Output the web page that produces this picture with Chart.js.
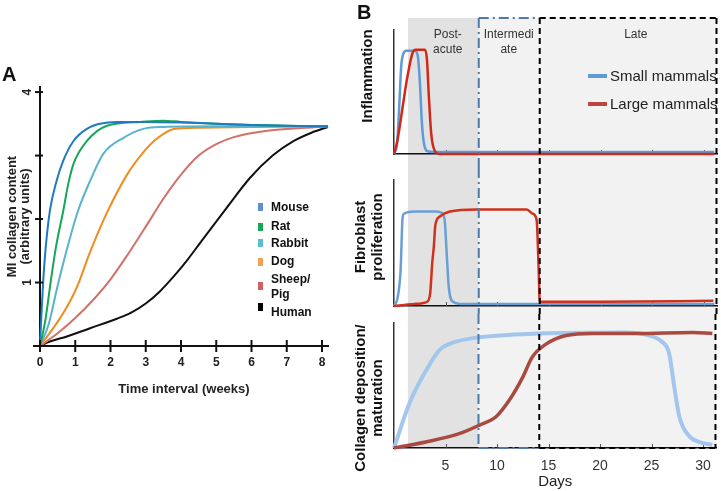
<!DOCTYPE html>
<html>
<head>
<meta charset="utf-8">
<script src="https://cdn.jsdelivr.net/npm/chart.js@4.4.1/dist/chart.umd.min.js"></script>
<style>
  body { margin: 0; background: #fff; }
  #wrap { position: relative; width: 721px; height: 491px; overflow: hidden; font-family: "Liberation Sans", Arial, sans-serif; }
  canvas { position: absolute; }
  .panel { position: absolute; font-weight: bold; font-size: 20px; line-height: 20px; color: #111; }
</style>
</head>
<body>
<div id="wrap">
  <canvas id="chartA" width="360" height="410" style="left:0;top:0"></canvas>
  <canvas id="chartB1" width="366" height="168" style="left:355px;top:0"></canvas>
  <canvas id="chartB2" width="366" height="146" style="left:355px;top:168px"></canvas>
  <canvas id="chartB3" width="366" height="177" style="left:355px;top:314px"></canvas>
  <div class="panel" style="left:2px;top:64px">A</div>
  <div class="panel" style="left:357px;top:2px">B</div>
</div>
<script>
// ---- panel A data: collagen content (a.u.) vs time (weeks) ----
const weekTicks = [0, 1, 2, 3, 4, 5, 6, 7, 8];
const contentTicks = [0, 1, 2, 3, 4];
const contentLabels = ['', '1', '', '', '4'];
const species = ['Mouse', 'Rat', 'Rabbit', 'Dog', 'Sheep/Pig', 'Human'];
const mouse = [[0,0],[0.05,0.6],[0.1,1.1],[0.17,1.6],[0.28,2.13],[0.47,2.6],[0.66,2.92],[0.95,3.23],[1.33,3.42],[1.7,3.5],[2.2,3.53],[3,3.53],[4,3.52],[5,3.5],[6,3.48],[7,3.47],[8.17,3.46]];
const rat = [[0,0],[0.15,0.4],[0.3,1.0],[0.45,1.55],[0.66,2.13],[0.8,2.55],[0.95,2.87],[1.33,3.23],[1.9,3.47],[2.84,3.53],[3.5,3.55],[4,3.53],[5,3.5],[6,3.48],[7,3.47],[8.17,3.46]];
const rabbit = [[0,0],[0.25,0.35],[0.5,0.95],[0.8,1.6],[1.08,2.13],[1.42,2.6],[1.8,3.03],[2.37,3.28],[2.93,3.42],[3.5,3.45],[5,3.46],[8.17,3.46]];
const dog = [[0,0],[0.5,0.38],[0.85,0.7],[1.1,1.0],[1.4,1.45],[1.9,2.1],[2.47,2.7],[2.93,3.05],[3.3,3.26],[3.8,3.42],[4.5,3.44],[6,3.45],[8.17,3.46]];
const sheepPig = [[0,0],[0.5,0.2],[1,0.44],[1.5,0.72],[2,1.05],[2.5,1.45],[3,1.88],[3.5,2.32],[4,2.7],[4.5,3.0],[5,3.18],[5.5,3.29],[6.45,3.39],[7.3,3.43],[8.17,3.46]];
const human = [[0,0],[0.28,0.07],[0.76,0.15],[1.42,0.28],[2.18,0.43],[2.6,0.53],[3.0,0.67],[3.4,0.86],[3.8,1.1],[4.2,1.37],[4.55,1.63],[5.3,2.18],[5.96,2.65],[6.6,3.0],[7.2,3.23],[7.7,3.36],[8.17,3.45]];

// ---- panel B data: relative level vs days ----
const dayTicks = [5, 10, 15, 20, 25, 30];
const phaseDays = [1.35, 8.2, 14.1, 31.3]; // post-acute start, intermediate, late, end
const groups = ['Small mammals', 'Large mammals'];
const inflamSmall = [[0,0],[0.3,0.1],[0.5,0.45],[0.7,0.85],[0.9,0.97],[1.2,1.0],[2.0,1.0],[2.3,0.95],[2.5,0.7],[2.7,0.3],[2.9,0.1],[3.3,0.025],[4,0.02],[31,0.02]];
const inflamLarge = [[0,0],[0.35,0.14],[0.83,0.45],[1.3,0.75],[1.8,0.98],[2.1,1.01],[3.0,1.01],[3.2,0.9],[3.35,0.6],[3.6,0.2],[3.9,0.04],[4.4,0],[31,0]];
const fibroSmall = [[0,0],[0.35,0.08],[0.64,0.34],[0.83,0.84],[1.0,0.88],[2,0.9],[4,0.9],[4.6,0.89],[4.9,0.82],[5.1,0.5],[5.3,0.18],[5.7,0.04],[6.4,0.02],[31,0.02]];
const fibroLarge = [[0,0],[1,0.01],[2,0.02],[3.2,0.04],[3.5,0.12],[3.7,0.41],[3.85,0.56],[4.0,0.77],[4.4,0.85],[5.4,0.9],[8,0.92],[12.85,0.92],[13.4,0.88],[13.8,0.82],[14.0,0.34],[14.1,0.04],[20,0.04],[30.9,0.05]];
const collagenSmall = [[0,0],[1.5,0.43],[3.15,0.75],[4.4,0.94],[5.4,1.0],[7.35,1.05],[14.1,1.1],[22.5,1.11],[24.8,1.08],[26,1.02],[26.7,0.91],[27.2,0.59],[27.7,0.3],[28.6,0.12],[29.9,0.05],[30.9,0.03]];
const collagenLarge = [[0,0],[3.2,0.06],[6.4,0.14],[8.3,0.22],[9.9,0.3],[11.2,0.46],[12.5,0.68],[13.4,0.87],[14.8,1.0],[16.7,1.08],[19.3,1.1],[23.5,1.1],[29,1.11],[30.9,1.1]];

const FONT = '"Liberation Sans", Arial, Helvetica, sans-serif';
Chart.defaults.font.family = FONT;

function toPts(arr) {
    return arr.map(p => ({ x: p[0], y: p[1] }));
}

// ---------------- panel A ----------------
const seriesA = [mouse, rat, rabbit, dog, sheepPig, human];
const lineColorsA = ['#1f7ac1', '#17a657', '#5bb3cb', '#ef8c1f', '#d2716a', '#111111'];
const legendColorsA = ['#5b8fcf', '#1aa65a', '#5cbcd2', '#f4a055', '#cd6260', '#000000'];

const panelAPlugin = {
    id: 'panelA',
    afterDraw(chart) {
        const { ctx, scales: { x, y } } = chart;
        const y0 = y.getPixelForValue(0);
        const x0 = x.getPixelForValue(0);
        ctx.save();
        ctx.strokeStyle = '#111';
        ctx.lineWidth = 2;
        // x axis runs a little past the origin
        ctx.beginPath();
        ctx.moveTo(x0 - 7, y0);
        ctx.lineTo(x0, y0);
        ctx.stroke();
        // crossing tick marks
        weekTicks.forEach(v => {
            const px = x.getPixelForValue(v);
            ctx.beginPath();
            ctx.moveTo(px, y0 - 6);
            ctx.lineTo(px, y0 + 6);
            ctx.stroke();
        });
        contentTicks.forEach(v => {
            const py = y.getPixelForValue(v);
            ctx.beginPath();
            ctx.moveTo(x0 - 5, py);
            ctx.lineTo(x0 + 3, py);
            ctx.stroke();
        });
        // rotated y tick labels
        ctx.fillStyle = '#222';
        ctx.font = 'bold 12px ' + FONT;
        ctx.textAlign = 'center';
        ctx.textBaseline = 'middle';
        contentTicks.forEach((v, i) => {
            if (!contentLabels[i]) return;
            ctx.save();
            ctx.translate(x0 - 12, y.getPixelForValue(v));
            ctx.rotate(-Math.PI / 2);
            ctx.fillText(contentLabels[i], 0, 0);
            ctx.restore();
        });
        // legend
        const rows = [[207, 208], [227, 227], [243, 244], [262, 262], [286, 280], [307, 313]];
        ctx.textAlign = 'left';
        species.forEach((name, i) => {
            ctx.fillStyle = legendColorsA[i];
            ctx.fillRect(258, rows[i][0] - 4, 5, 8);
            ctx.fillStyle = '#111';
            if (name === 'Sheep/Pig') {
                ctx.fillText('Sheep/', 271, 280);
                ctx.fillText('Pig', 271, 295);
            } else {
                ctx.fillText(name, 271, rows[i][1]);
            }
        });
        ctx.restore();
    }
};

new Chart(document.getElementById('chartA'), {
    type: 'line',
    data: {
        datasets: species.map((name, i) => ({
            label: name,
            data: toPts(seriesA[i]),
            borderColor: lineColorsA[i],
            borderWidth: 2,
            pointRadius: 0,
            cubicInterpolationMode: 'monotone',
            fill: false,
            clip: false
        }))
    },
    options: {
        responsive: false,
        animation: false,
        events: [],
        layout: { padding: { left: 0, top: 87, right: 32, bottom: 0 } },
        plugins: { legend: { display: false }, tooltip: { enabled: false } },
        scales: {
            x: {
                type: 'linear',
                min: 0,
                max: 8.17,
                afterFit: s => { s.height = 64; },
                afterBuildTicks: s => { s.ticks = weekTicks.map(v => ({ value: v })); },
                grid: { display: false, drawTicks: false },
                border: { color: '#111', width: 2 },
                ticks: { color: '#222', font: { size: 12, weight: 'bold' }, padding: 9 },
                title: {
                    display: true,
                    text: 'Time interval (weeks)',
                    color: '#222',
                    font: { size: 13, weight: 'bold' },
                    padding: { top: 0, bottom: 13 }
                }
            },
            y: {
                type: 'linear',
                min: 0,
                max: 4.08,
                afterFit: s => { s.width = 40; },
                grid: { display: false, drawTicks: false },
                border: { color: '#111', width: 2 },
                ticks: { display: false },
                title: {
                    display: true,
                    text: ['MI collagen content', '(arbitrary units)'],
                    color: '#222',
                    font: { size: 13, weight: 'bold', lineHeight: 1.0 },
                    padding: { top: 6, bottom: 0 }
                }
            }
        }
    },
    plugins: [panelAPlugin]
});

// ---------------- panel B ----------------
function phasePlugin(cfg) {
    return {
        id: 'phases',
        beforeDraw(chart) {
            const { ctx, chartArea, scales: { x } } = chart;
            const top = cfg.boxTop;
            const bottom = cfg.boxBottom === 'axis' ? chartArea.bottom : chart.height;
            const xa = x.getPixelForValue(phaseDays[0]);
            const xb = x.getPixelForValue(phaseDays[1]);
            const xe = x.getPixelForValue(phaseDays[3]);
            ctx.save();
            ctx.fillStyle = '#e2e2e2';
            ctx.fillRect(xa, top, xb - xa, bottom - top);
            ctx.fillStyle = '#f2f2f2';
            ctx.fillRect(xb, top, xe - xb, bottom - top);
            ctx.restore();
        },
        beforeDatasetsDraw(chart) {
            const { ctx, chartArea, scales: { x } } = chart;
            ctx.save();
            ctx.strokeStyle = '#555';
            ctx.lineWidth = 1;
            dayTicks.forEach(v => {
                const px = Math.round(x.getPixelForValue(v)) + 0.5;
                ctx.beginPath();
                ctx.moveTo(px, chartArea.bottom - 4);
                ctx.lineTo(px, chartArea.bottom);
                ctx.stroke();
            });
            ctx.restore();
        },
        afterDraw(chart) {
            const { ctx, chartArea, scales: { x } } = chart;
            const top = cfg.boxTop;
            const bottom = cfg.boxBottom === 'axis' ? chartArea.bottom : chart.height;
            const xb = x.getPixelForValue(phaseDays[1]);
            const xc = x.getPixelForValue(phaseDays[2]);
            const xe = x.getPixelForValue(phaseDays[3]) - 1;
            const drawTop = cfg.labels;
            const drawBottom = cfg.boxBottom === 'axis';
            ctx.save();
            // intermediate box (dash-dot)
            ctx.strokeStyle = '#4d7aab';
            ctx.lineWidth = 2;
            ctx.setLineDash([10, 4, 2, 4]);
            ctx.beginPath();
            ctx.moveTo(xb, top);
            ctx.lineTo(xb, bottom);
            if (drawTop) {
                ctx.moveTo(xb, top);
                ctx.lineTo(xc, top);
            }
            if (drawBottom) {
                ctx.moveTo(xb, bottom);
                ctx.lineTo(xc, bottom);
            }
            ctx.stroke();
            // late box (dashed)
            ctx.strokeStyle = '#000';
            ctx.setLineDash([6, 4]);
            ctx.beginPath();
            ctx.moveTo(xc, top);
            ctx.lineTo(xc, bottom);
            ctx.moveTo(xe, top);
            ctx.lineTo(xe, bottom);
            if (drawTop) {
                ctx.moveTo(xc, top);
                ctx.lineTo(xe, top);
            }
            if (drawBottom) {
                ctx.moveTo(xc, bottom);
                ctx.lineTo(xe, bottom);
            }
            ctx.stroke();
            ctx.setLineDash([]);

            // y title
            ctx.fillStyle = '#111';
            ctx.font = 'bold 15px ' + FONT;
            ctx.textAlign = 'center';
            ctx.textBaseline = 'middle';
            cfg.yTitle.lines.forEach((t, i) => {
                ctx.save();
                ctx.translate(cfg.yTitle.xs[i], cfg.yTitle.cy);
                ctx.rotate(-Math.PI / 2);
                ctx.fillText(t, 0, 0);
                ctx.restore();
            });

            if (cfg.labels) {
                ctx.fillStyle = '#333';
                ctx.font = '12px ' + FONT;
                ctx.fillText('Post-', x.getPixelForValue(5.2), 35);
                ctx.fillText('acute', x.getPixelForValue(5.2), 50);
                ctx.fillText('Intermedi', x.getPixelForValue(11.1), 35);
                ctx.fillText('ate', x.getPixelForValue(11.1), 50);
                ctx.fillText('Late', x.getPixelForValue(23.4), 35);
                // legend
                ctx.textAlign = 'left';
                ctx.font = '15px ' + FONT;
                const legendCols = ['#5e9ad6', '#b5473d'];
                groups.forEach((g, i) => {
                    const ly = 76 + i * 28;
                    ctx.fillStyle = legendCols[i];
                    ctx.fillRect(233, ly - 2, 19, 4);
                    ctx.fillStyle = '#222';
                    ctx.fillText(g, 255, ly + 1);
                });
            }
            ctx.restore();
        }
    };
}

function makeB(id, small, large, cfg) {
    return new Chart(document.getElementById(id), {
        type: 'line',
        data: {
            datasets: [
                {
                    label: groups[1],
                    data: toPts(large),
                    borderColor: cfg.largeColor,
                    borderWidth: cfg.largeWidth,
                    order: 0
                },
                {
                    label: groups[0],
                    data: toPts(small),
                    borderColor: cfg.smallColor,
                    borderWidth: cfg.smallWidth,
                    order: 1
                }
            ].map(d => Object.assign(d, { pointRadius: 0, cubicInterpolationMode: 'monotone', fill: false, clip: false }))
        },
        options: {
            responsive: false,
            animation: false,
            events: [],
            layout: { padding: { left: 0, top: cfg.padTop, right: 3.5, bottom: 0 } },
            plugins: { legend: { display: false }, tooltip: { enabled: false } },
            scales: {
                x: {
                    type: 'linear',
                    min: 0,
                    max: phaseDays[3],
                    afterFit: s => { s.height = cfg.xHeight; },
                    afterBuildTicks: s => { s.ticks = dayTicks.map(v => ({ value: v })); },
                    grid: { display: false, drawTicks: false },
                    border: { color: '#111', width: 1.5 },
                    ticks: { display: cfg.showDays, color: '#333', font: { size: 14 }, padding: 10 },
                    title: {
                        display: cfg.showDays,
                        text: 'Days',
                        color: '#222',
                        font: { size: 15 },
                        padding: { top: 0, bottom: 0 }
                    }
                },
                y: {
                    type: 'linear',
                    min: 0,
                    max: 1.2,
                    afterFit: s => { s.width = 39; },
                    grid: { display: false, drawTicks: false },
                    border: { color: '#333', width: 1.5 },
                    ticks: { display: false }
                }
            }
        },
        plugins: [phasePlugin(cfg)]
    });
}

makeB('chartB1', inflamSmall, inflamLarge, {
    smallColor: '#5d9ad6', largeColor: '#d2281a', smallWidth: 2.5, largeWidth: 2.5,
    padTop: 30, xHeight: 14, boxTop: 18, boxBottom: 'canvas', labels: true, showDays: false,
    yTitle: { lines: ['Inflammation'], xs: [13], cy: 76 }
});
makeB('chartB2', fibroSmall, fibroLarge, {
    smallColor: '#6a9fd6', largeColor: '#d0301c', smallWidth: 2.5, largeWidth: 2.5,
    padTop: 12, xHeight: 8, boxTop: 0, boxBottom: 'canvas', labels: false, showDays: false,
    yTitle: { lines: ['Fibroblast', 'proliferation'], xs: [6, 23], cy: 69 }
});
makeB('chartB3', collagenSmall, collagenLarge, {
    smallColor: '#a3c6ec', largeColor: '#a94a40', smallWidth: 4, largeWidth: 3.5,
    padTop: 9, xHeight: 43, boxTop: 0, boxBottom: 'axis', labels: false, showDays: true,
    yTitle: { lines: ['Collagen deposition/', 'maturation'], xs: [6, 23], cy: 84 }
});
</script>
</body>
</html>
